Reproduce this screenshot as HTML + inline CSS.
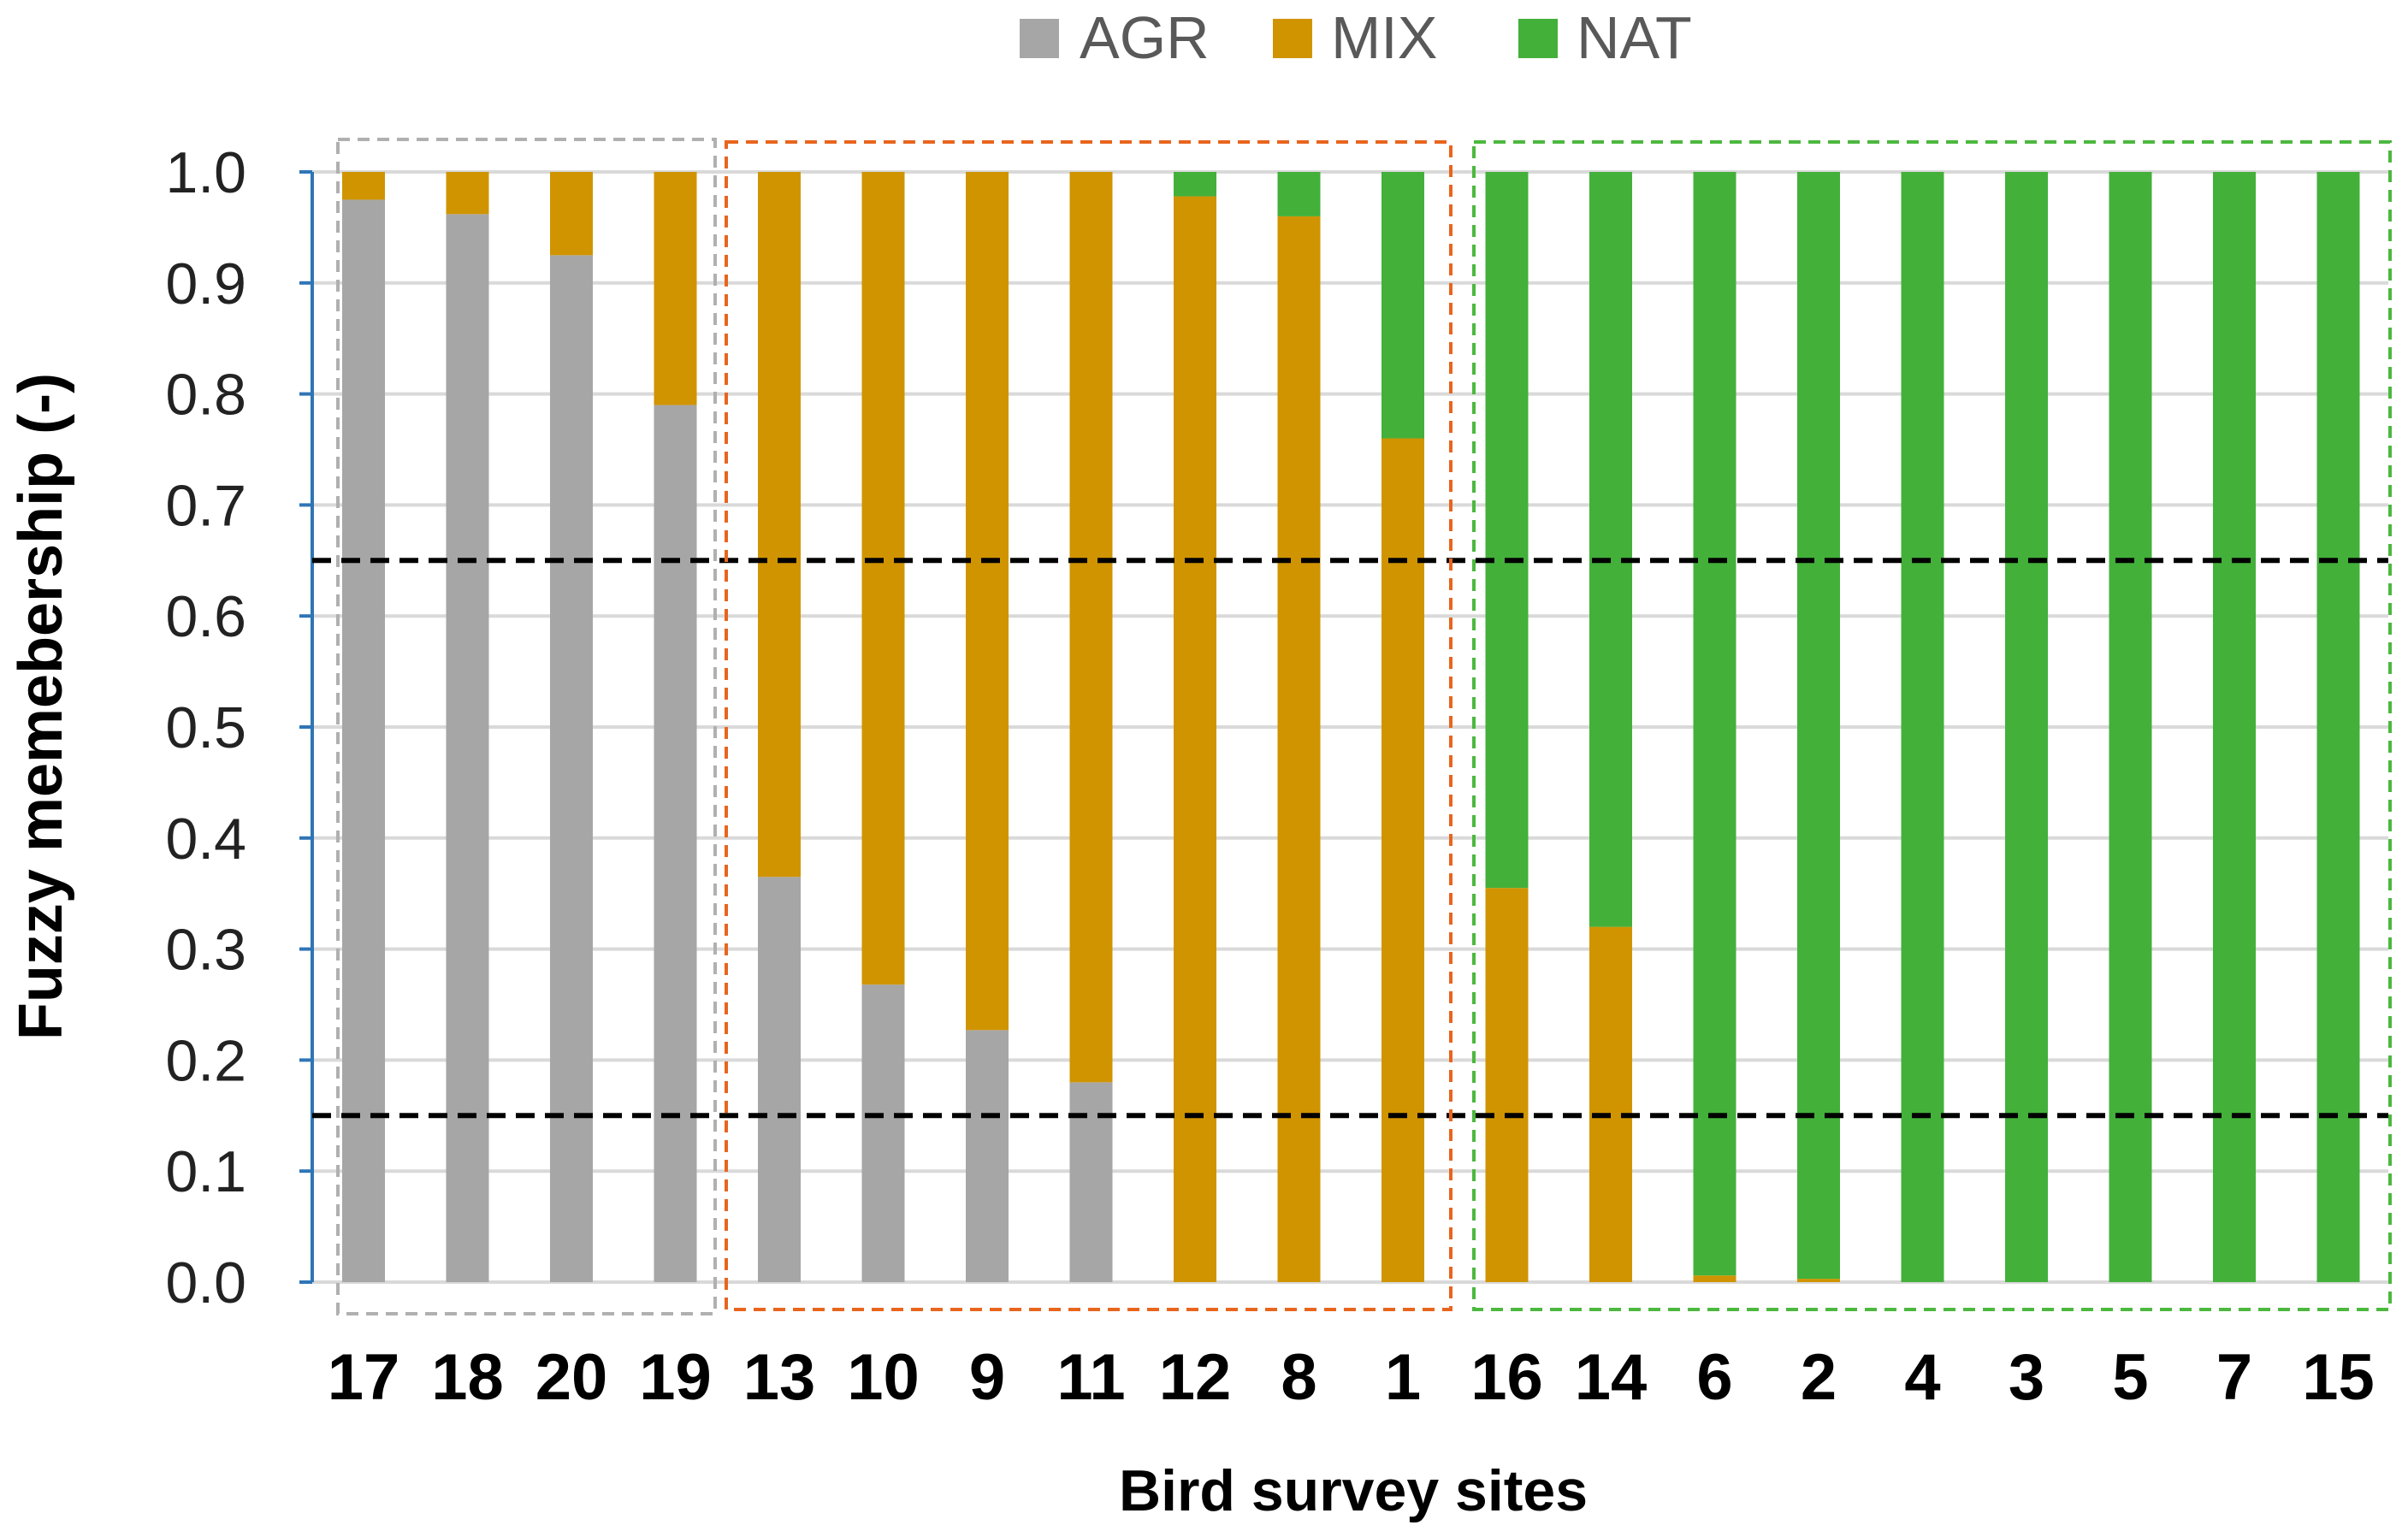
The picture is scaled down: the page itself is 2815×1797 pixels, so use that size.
<!DOCTYPE html>
<html><head><meta charset="utf-8"><style>
html,body{margin:0;padding:0;background:#fff;}
svg{display:block;font-family:"Liberation Sans",sans-serif;}
</style></head><body>
<svg id="chart" width="2815" height="1797" viewBox="0 0 2815 1797">
<g id="legend">
  <g><rect x="1192" y="22" width="46" height="46" fill="#a6a6a6"/><text x="1262" y="68" font-size="70" fill="#595959">AGR</text></g>
  <g><rect x="1488" y="22" width="46" height="46" fill="#d09400"/><text x="1556" y="68" font-size="70" fill="#595959">MIX</text></g>
  <g><rect x="1775" y="22" width="46" height="46" fill="#43b03a"/><text x="1843" y="68" font-size="70" fill="#595959">NAT</text></g>
</g>
<g id="grid"></g>
<g id="bars"></g>
<g id="yaxis"></g>
<g id="xaxis"></g>
<g id="overlay"></g>
<text x="72" y="826" font-size="72" font-weight="bold" fill="#000" text-anchor="middle" transform="rotate(-90 72 826)">Fuzzy memebership (-)</text>
<text x="1582" y="1766" font-size="68" font-weight="bold" fill="#000" text-anchor="middle">Bird survey sites</text>
</svg>
<script>
const sites = ["17","18","20","19","13","10","9","11","12","8","1","16","14","6","2","4","3","5","7","15"];
const agr = [0.975,0.962,0.925,0.79,0.365,0.268,0.227,0.18,0,0,0,0,0,0,0,0,0,0,0,0];
const mix = [0.025,0.038,0.075,0.21,0.635,0.732,0.773,0.82,0.978,0.96,0.76,0.355,0.32,0.006,0.003,0,0,0,0,0];
const nat = [0,0,0,0,0,0,0,0,0.022,0.04,0.24,0.645,0.68,0.994,0.997,1,1,1,1,1];
const yTicks = [0,0.1,0.2,0.3,0.4,0.5,0.6,0.7,0.8,0.9,1.0];
const thresholds = [0.65,0.15];
const groups = [{from:0,to:3,color:"#b0b0b0"},{from:4,to:10,color:"#e8651e"},{from:11,to:19,color:"#4cb83e"}];

const NS="http://www.w3.org/2000/svg";
const X0=365, X1=2792, Y0=1499, Y1=201, step=121.5, first=425, bw=50;
const y = v => Y0-(Y0-Y1)*v;
const x = i => first+i*step;
function mk(tag,attrs,parent){const e=document.createElementNS(NS,tag);for(const k in attrs)e.setAttribute(k,attrs[k]);parent.appendChild(e);return e;}
const grid=document.getElementById('grid'),bars=document.getElementById('bars'),ya=document.getElementById('yaxis'),xa=document.getElementById('xaxis'),ov=document.getElementById('overlay');

yTicks.forEach(t=>{
  const g=mk('line',{x1:X0,x2:X1,y1:y(t),y2:y(t),stroke:"#d9d9d9","stroke-width":4},grid);
  
  
  const tk=mk('line',{x1:350,x2:X0,y1:y(t),y2:y(t),stroke:"#2e75b6","stroke-width":4},ya);
  
  
  const lb=mk('text',{x:288,y:y(t)+24,"font-size":68,"text-anchor":"end",fill:"#222"},ya);
  lb.textContent=t.toFixed(1);
  
  
});
const axl=mk('line',{x1:X0,x2:X0,y1:y(1),y2:y(0),stroke:"#2e75b6","stroke-width":4},ya);



sites.forEach((s,i)=>{
  const cx=x(i);
  let base=0;
  [[agr[i],"#a6a6a6","agr"],[mix[i],"#d09400","mix"],[nat[i],"#43b03a","nat"]].forEach(([v,c,n])=>{
    if(v>0){
      const r=mk('rect',{x:cx-bw/2,y:y(base+v),width:bw,height:y(base)-y(base+v),fill:c},bars);
      
      
    }
    base+=v;
  });
  const lb=mk('text',{x:cx,y:1636,"font-size":76,"font-weight":"bold","text-anchor":"middle",fill:"#000"},xa);
  lb.textContent=s;
  
  
});

thresholds.forEach(t=>{
  const l=mk('line',{x1:X0,x2:X1,y1:y(t),y2:y(t),stroke:"#000","stroke-width":6,"stroke-dasharray":"22 12"},ov);
  
  
});
const padL=[5,37,13.5], padR=[21.5,31,35.5];
groups.forEach((g,k)=>{
  const L = x(g.from)-bw/2-padL[k];
  const R = x(g.to)+bw/2+padR[k];
  const top = k===0?163:166, bot = k===0?1536:1531;
  const r=mk('rect',{x:L,y:top,width:R-L,height:bot-top,fill:"none",stroke:g.color,"stroke-width":4,"stroke-dasharray":"14 9"},ov);
  
  
});
</script>
</body></html>
